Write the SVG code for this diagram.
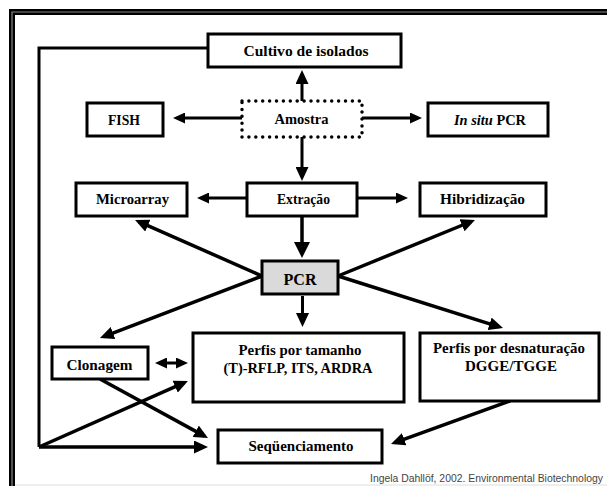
<svg xmlns="http://www.w3.org/2000/svg" width="607" height="486" viewBox="0 0 607 486">
<style>
.box{fill:#fff;stroke:#000;stroke-width:3}
.t{font-family:"Liberation Serif","Times New Roman",serif;font-weight:bold;font-size:15px;fill:#000;text-anchor:middle}
.c{fill:none;stroke:#000;stroke-width:3}
.d{fill:none;stroke:#000;stroke-width:3.5}
</style>
<defs>
<marker id="ah" viewBox="0 0 12 11" markerWidth="12" markerHeight="11" refX="8" refY="5.5" orient="auto" markerUnits="userSpaceOnUse"><path d="M0,0 L12,5.5 L0,11 z" fill="#000"/></marker>
<marker id="ahs" viewBox="0 0 12 11" markerWidth="12" markerHeight="11" refX="8" refY="5.5" orient="auto-start-reverse" markerUnits="userSpaceOnUse"><path d="M0,0 L12,5.5 L0,11 z" fill="#000"/></marker>
<marker id="ahM" viewBox="0 0 14 13" markerWidth="14" markerHeight="13" refX="10" refY="6.5" orient="auto" markerUnits="userSpaceOnUse"><path d="M0,0 L14,6.5 L0,13 z" fill="#000"/></marker>
<marker id="ahL" viewBox="0 0 16 16" markerWidth="16" markerHeight="16" refX="12" refY="8" orient="auto" markerUnits="userSpaceOnUse"><path d="M0,0 L16,8 L0,16 z" fill="#000"/></marker>
</defs>
<rect x="0" y="0" width="607" height="486" fill="#fff"/>
<g id="frame">
<path d="M12,486 V12 H607" fill="none" stroke="#000" stroke-width="6"/>
<path d="M12,486 V12 H607" fill="none" stroke="#888" stroke-width="1.2"/>
<line x1="15" y1="485" x2="607" y2="485" stroke="#ddd" stroke-width="1"/>
</g>
<g id="connectors">
<path class="c" d="M208,48 H39 V447"/>
<path class="c" d="M302,101 V74" marker-end="url(#ahM)"/>
<path class="c" d="M242,118 H177" marker-end="url(#ah)"/>
<path class="c" d="M362,118 H418" marker-end="url(#ah)"/>
<path class="c" d="M302,137 V177" marker-end="url(#ahM)"/>
<path class="c" d="M247,198 H201" marker-end="url(#ah)"/>
<path class="c" d="M357,198 H404" marker-end="url(#ah)"/>
<path class="d" d="M302,216 V254" marker-end="url(#ahL)"/>
<path class="d" d="M262,276 L138.7,221.6" marker-end="url(#ahM)"/>
<path class="d" d="M338,276 L471.3,221.5" marker-end="url(#ahM)"/>
<path class="d" d="M262,276 L103.7,336.6" marker-end="url(#ahM)"/>
<path class="d" d="M338,276 L499.2,326.8" marker-end="url(#ahM)"/>
<path class="c" d="M302.5,296 V323" marker-end="url(#ahM)"/>
<path class="c" d="M159,363 H184" marker-start="url(#ahs)" marker-end="url(#ahs)"/>
<path class="d" d="M39,447 H204" marker-end="url(#ahM)"/>
<path class="d" d="M39,447 L184.3,382.6" marker-end="url(#ahM)"/>
<path class="d" d="M100,379 L204.5,436.1" marker-end="url(#ahM)"/>
<path class="d" d="M510,401 L394.8,442.6" marker-end="url(#ahM)"/>
</g>
<g id="cultivo">
<rect class="box" x="208" y="34" width="193" height="33"/>
<text class="t" x="306" y="56" textLength="125" lengthAdjust="spacingAndGlyphs">Cultivo de isolados</text>
</g>
<g id="amostra">
<rect x="242" y="101" width="120" height="36" fill="#fff" stroke="#000" stroke-width="3.5" stroke-dasharray="0 6.9" stroke-linecap="round"/>
<text class="t" x="301.5" y="124" textLength="54" lengthAdjust="spacingAndGlyphs">Amostra</text>
</g>
<g id="fish">
<rect class="box" x="87" y="103" width="76" height="33"/>
<text class="t" x="124" y="124.5" textLength="32" lengthAdjust="spacingAndGlyphs">FISH</text>
</g>
<g id="insitu">
<rect class="box" x="428" y="103" width="120" height="33"/>
<text class="t" x="490" y="125" textLength="72" lengthAdjust="spacingAndGlyphs"><tspan font-style="italic">In situ</tspan> PCR</text>
</g>
<g id="microarray">
<rect class="box" x="76" y="183" width="111" height="33"/>
<text class="t" x="132.5" y="204" textLength="73" lengthAdjust="spacingAndGlyphs">Microarray</text>
</g>
<g id="extracao">
<rect class="box" x="247" y="183" width="110" height="33"/>
<text class="t" x="303.5" y="204.3" textLength="53" lengthAdjust="spacingAndGlyphs">Extração</text>
</g>
<g id="hibridizacao">
<rect class="box" x="420" y="183" width="126" height="33"/>
<text class="t" x="482.5" y="203.5" textLength="85" lengthAdjust="spacingAndGlyphs">Hibridização</text>
</g>
<g id="pcr">
<rect x="262" y="261" width="76" height="33" fill="#dadada" stroke="#000" stroke-width="3"/>
<text class="t" x="300" y="284.5" style="font-size:17px" textLength="33" lengthAdjust="spacingAndGlyphs">PCR</text>
</g>
<g id="clonagem">
<rect class="box" x="52" y="347" width="96" height="32"/>
<text class="t" x="99.5" y="370" textLength="66" lengthAdjust="spacingAndGlyphs">Clonagem</text>
</g>
<g id="perfis-tamanho">
<rect class="box" x="193" y="333" width="211" height="69"/>
<text class="t" x="300" y="355" textLength="123" lengthAdjust="spacingAndGlyphs">Perfis por tamanho</text>
<text class="t" x="298" y="373.3" textLength="149" lengthAdjust="spacingAndGlyphs">(T)-RFLP, ITS, ARDRA</text>
</g>
<g id="perfis-desnaturacao">
<rect class="box" x="420" y="333" width="179" height="68"/>
<text class="t" x="509" y="353.3" textLength="152" lengthAdjust="spacingAndGlyphs">Perfis por desnaturação</text>
<text class="t" x="511" y="370.7" textLength="92" lengthAdjust="spacingAndGlyphs">DGGE/TGGE</text>
</g>
<g id="sequenciamento">
<rect class="box" x="218" y="430" width="164" height="33"/>
<text class="t" x="301" y="450.7" textLength="105" lengthAdjust="spacingAndGlyphs">Seqüenciamento</text>
</g>
<text x="603" y="481.5" font-family="Liberation Sans, Arial, sans-serif" font-size="10.5" fill="#444" text-anchor="end" textLength="233" lengthAdjust="spacingAndGlyphs">Ingela Dahllöf, 2002. Environmental Biotechnology</text>
</svg>
